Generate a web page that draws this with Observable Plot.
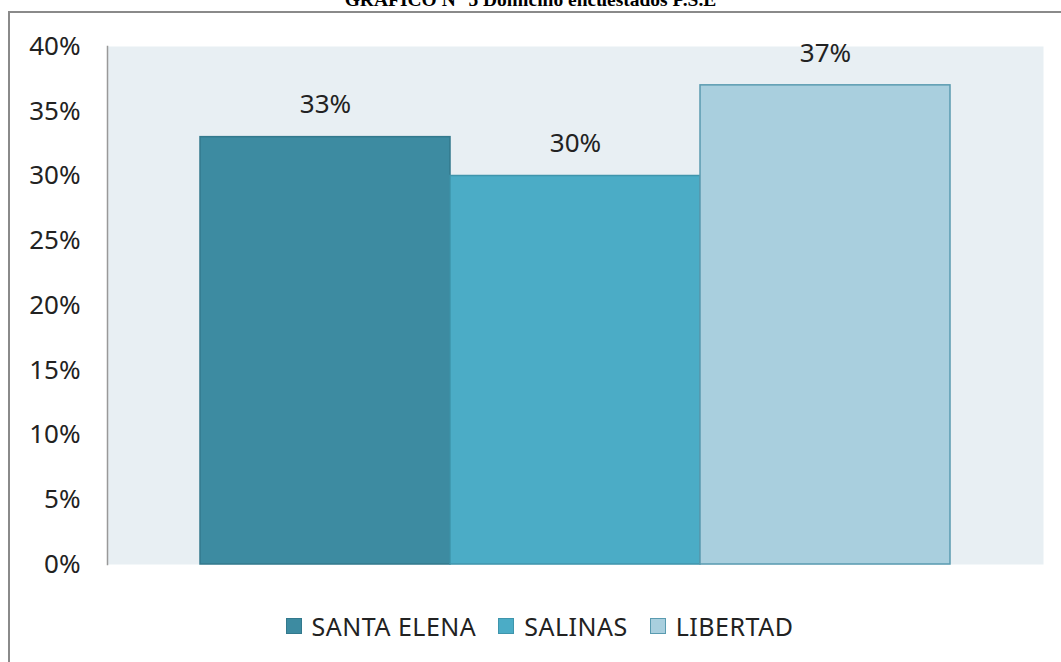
<!DOCTYPE html>
<html>
<head>
<meta charset="utf-8">
<script src="https://cdn.jsdelivr.net/npm/d3@7"></script>
<script src="https://cdn.jsdelivr.net/npm/@observablehq/plot@0.6"></script>
<style>
  html, body { margin: 0; padding: 0; background: #fff; overflow: hidden; }
  #wrap { position: relative; width: 1061px; height: 662px; }
  #title { position: absolute; left: 0; width: 1061px; top: -11px; text-align: center;
           font-family: "Liberation Serif", serif; font-weight: bold; font-size: 19.5px; color: #000; }
  #border { position: absolute; left: 8px; top: 11px; width: 1100px; height: 700px;
            border: 2px solid #8a8a8a; box-sizing: border-box; }
  #chart { position: absolute; left: 0; top: 0; }
  #legend { position: absolute; left: 0; top: 604px; width: 1061px; height: 44px;
            display: flex; justify-content: center; align-items: center; gap: 22px;
            font-family: "Noto Sans", sans-serif; font-size: 25px; letter-spacing: 0.5px; color: #222;
            padding-left: 18px; box-sizing: border-box; }
  .item { display: flex; align-items: center; gap: 10px; }
  .sw { width: 14px; height: 14px; border: 1px solid; }
</style>
</head>
<body>
<div id="wrap">
  <div id="border"></div>
  <div id="title">GRAFICO N° 5 Domicilio encuestados P.S.E</div>
  <div id="chart"></div>
  <div id="legend"></div>
</div>
<script>
const categories = ["SANTA ELENA", "SALINAS", "LIBERTAD"];
const values = [0.33, 0.30, 0.37];
const fills = ["#3D8BA1", "#4BACC6", "#A9CFDE"];
const strokes = ["#33798D", "#3F95AC", "#5A9BB0"];
const yTicks = [0, 0.05, 0.10, 0.15, 0.20, 0.25, 0.30, 0.35, 0.40];

const data = categories.map((c, i) => ({cat: c, value: values[i]}));
const fmt = d3.format(".0%");

const chart = Plot.plot({
  width: 1061,
  height: 600,
  marginLeft: 107,
  marginRight: 18,
  marginTop: 46,
  marginBottom: 36,
  style: {fontFamily: "Noto Sans", fontSize: "26px", color: "#222", background: "transparent"},
  x: {domain: categories, paddingOuter: 0.372, paddingInner: 0, axis: null},
  y: {domain: [0, 0.4], label: null},
  color: {domain: categories, range: fills},
  marks: [
    Plot.frame({fill: "#E8EFF3", stroke: null}),
    Plot.barY(data, {x: "cat", y: "value", fill: "cat",
      stroke: d => strokes[categories.indexOf(d.cat)], strokeWidth: 1.5}),
    Plot.text(data, {x: "cat", y: "value", text: d => fmt(d.value), dy: -32,
      fontSize: 26, fill: "#222"}),
    Plot.frame({anchor: "left", stroke: "#999", strokeWidth: 1.5}),
    Plot.axisY({ticks: yTicks, tickFormat: fmt, tickSize: 0, tickPadding: 27,
      fontSize: 26, label: null})
  ]
});
document.getElementById("chart").appendChild(chart);

const legend = document.getElementById("legend");
categories.forEach((c, i) => {
  const item = document.createElement("div");
  item.className = "item";
  const sw = document.createElement("div");
  sw.className = "sw";
  sw.style.background = fills[i];
  sw.style.borderColor = strokes[i];
  const t = document.createElement("span");
  t.textContent = c;
  item.appendChild(sw);
  item.appendChild(t);
  legend.appendChild(item);
});
</script>
</body>
</html>
